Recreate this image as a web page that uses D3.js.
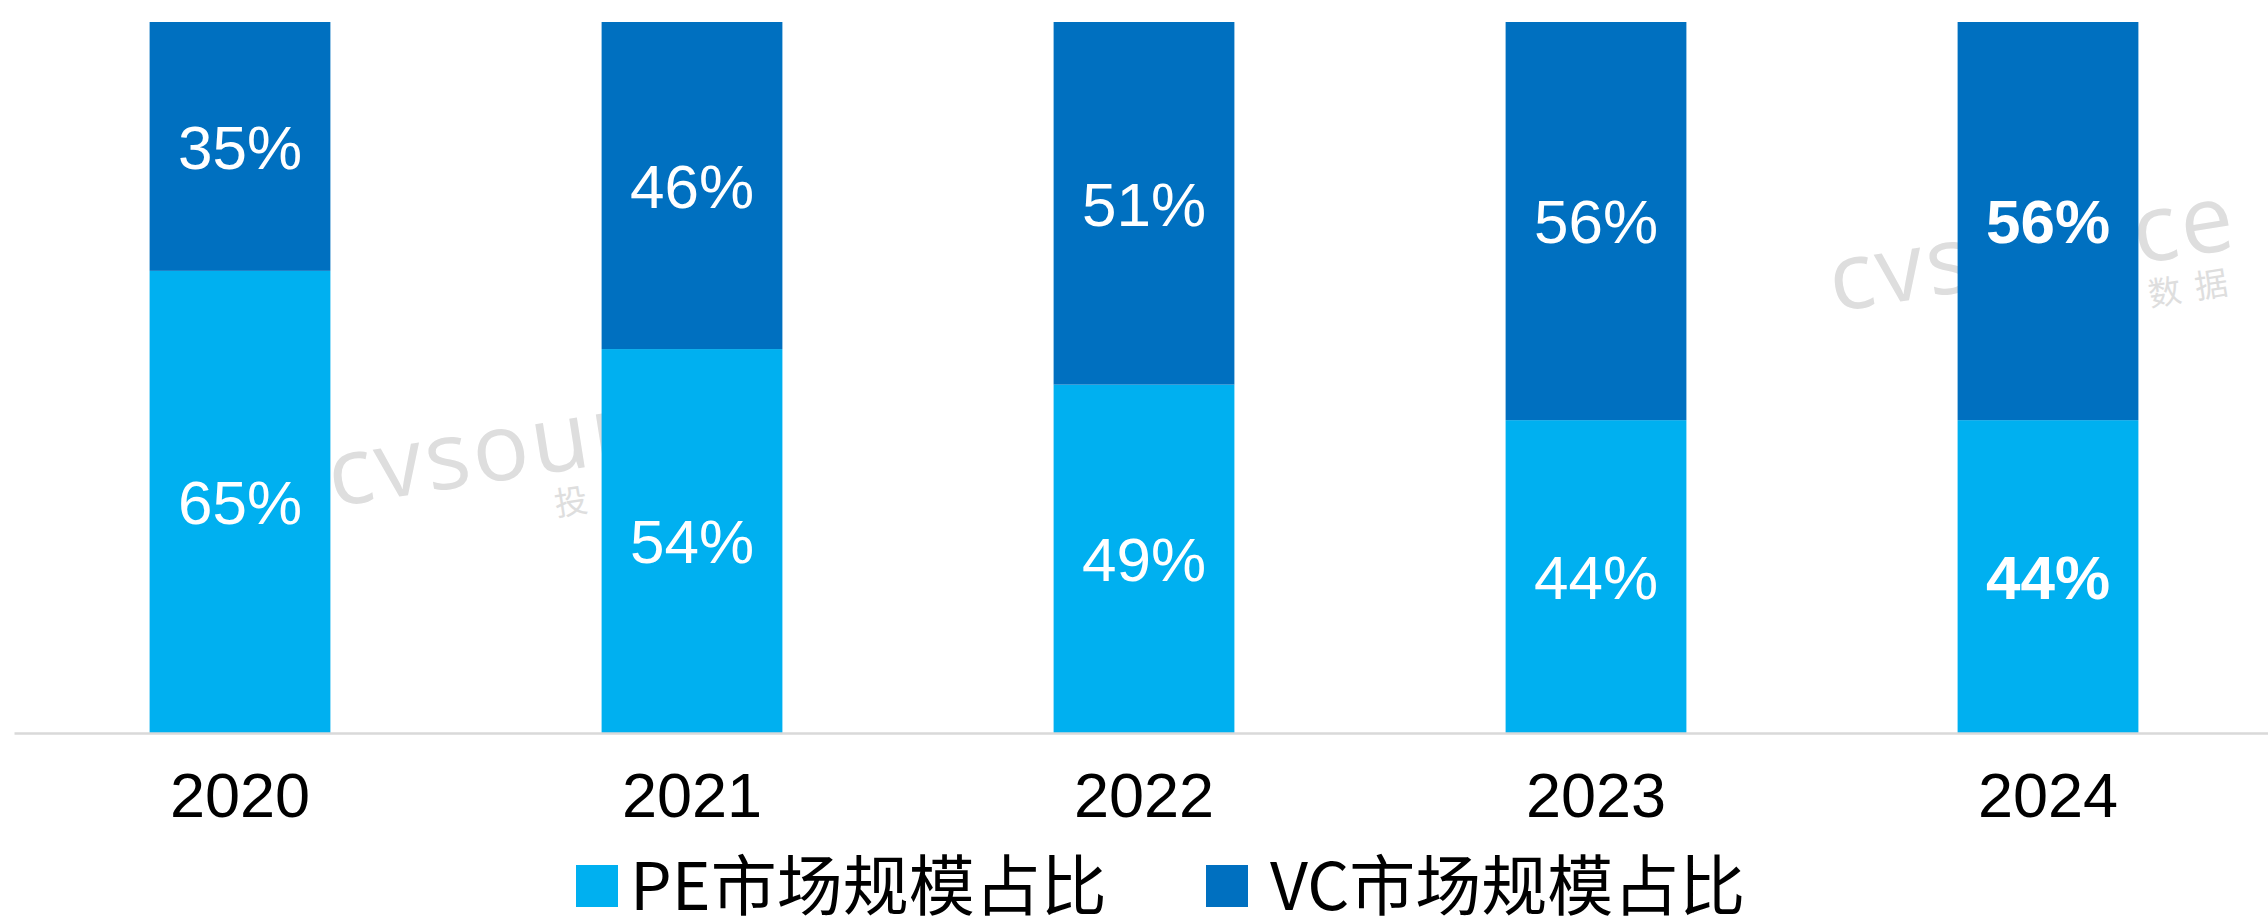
<!DOCTYPE html>
<html>
<head>
<meta charset="utf-8">
<script src="https://cdn.jsdelivr.net/npm/d3@7"></script>
<style>
  html, body { margin: 0; padding: 0; background: #fff; }
  #chart { width: 2268px; height: 923px; }
</style>
</head>
<body>
<div id="chart"></div>
<script>
// chart values
const years = ["2020", "2021", "2022", "2023", "2024"];
const peShare = [65, 54, 49, 44, 44];
const vcShare = [35, 46, 51, 56, 56];
const seriesNames = ["PE市场规模占比", "VC市场规模占比"];
const boldYears = ["2024"];

function drawChart(id) {
  const w = 2268;
  const h = 923;
  const colors = ["#00B0F0", "#0070C0"];

  const rows = years.map((y, i) => ({ year: y, pe: peShare[i], vc: vcShare[i] }));
  const stacked = d3.stack().keys(["pe", "vc"])(rows);

  const svg = d3
    .select(`#${id}`)
    .append("svg")
    .attr("width", w)
    .attr("height", h)
    .attr("viewBox", [0, 0, w, h]);

  const xScale = d3
    .scaleBand()
    .domain(years)
    .range([14, 2274])
    .paddingInner(0.6)
    .paddingOuter(0.3);

  const yScale = d3.scaleLinear().domain([0, 100]).range([733, 22]);

  // watermark sits under the bars
  const marks = [
    [333, 507],
    [1834, 312],
  ];
  marks.forEach(([mx, my]) => {
    const g = svg
      .append("g")
      .attr("transform", `translate(${mx},${my}) rotate(-9)`)
      .attr("fill", "#dedede");
    const t = g
      .append("text")
      .attr("font-family", "'Open Sans', sans-serif")
      .attr("font-size", 94)
      .attr("letter-spacing", 3)
      .text("cvsource");
    const len = t.node().getComputedTextLength();
    g.append("text")
      .attr("x", len - 4)
      .attr("y", 44)
      .attr("text-anchor", "end")
      .attr("font-family", "'Noto Sans CJK SC', sans-serif")
      .attr("font-size", 33)
      .attr("letter-spacing", 14)
      .text("投中数据");
  });

  // stacked bars
  svg
    .selectAll(".layer")
    .data(stacked)
    .enter()
    .append("g")
    .attr("class", "layer")
    .attr("fill", (d, i) => colors[i])
    .selectAll("rect")
    .data((d) => d)
    .enter()
    .append("rect")
    .attr("x", (d) => xScale(d.data.year))
    .attr("y", (d) => yScale(d[1]))
    .attr("width", xScale.bandwidth())
    .attr("height", (d) => yScale(d[0]) - yScale(d[1]));

  // value labels in the middle of each segment
  svg
    .selectAll(".vlayer")
    .data(stacked)
    .enter()
    .append("g")
    .attr("class", "vlayer")
    .selectAll("text")
    .data((d) => d)
    .enter()
    .append("text")
    .attr("x", (d) => xScale(d.data.year) + xScale.bandwidth() / 2)
    .attr("y", (d) => yScale((d[0] + d[1]) / 2))
    .attr("dy", "0.36em")
    .attr("text-anchor", "middle")
    .attr("fill", "#fff")
    .attr("font-family", "'Liberation Sans', Arial, sans-serif")
    .attr("font-size", 62)
    .attr("font-weight", (d) => (boldYears.includes(d.data.year) ? "bold" : "normal"))
    .text((d) => `${d[1] - d[0]}%`);

  // x axis
  const axis = svg
    .append("g")
    .attr("class", "x-axis")
    .attr("transform", `translate(0, ${yScale(0)})`)
    .call(d3.axisBottom(xScale).tickSize(0).tickPadding(39));
  axis.select(".domain").attr("stroke", "#d9d9d9").attr("stroke-width", 2.5);
  axis
    .selectAll("text")
    .attr("fill", "#000")
    .attr("font-family", "'Liberation Sans', Arial, sans-serif")
    .attr("font-size", 63);

  // legend
  const legendX = [576, 1206];
  const legend = svg
    .selectAll(".legendItem")
    .data(seriesNames)
    .enter()
    .append("g")
    .attr("class", "legendItem")
    .attr("transform", (d, i) => `translate(${legendX[i]}, 865)`);
  legend
    .append("rect")
    .attr("width", 42)
    .attr("height", 42)
    .attr("fill", (d, i) => colors[i]);
  legend
    .append("text")
    .attr("x", (d, i) => (i === 0 ? 54 : 64))
    .attr("y", 21)
    .attr("dy", "0.36em")
    .attr("fill", "#000")
    .attr("font-family", "'Noto Sans CJK SC', sans-serif")
    .attr("font-size", 66)
    .text((d) => d);
}

document.addEventListener("DOMContentLoaded", function () {
  drawChart("chart");
});
</script>
</body>
</html>
